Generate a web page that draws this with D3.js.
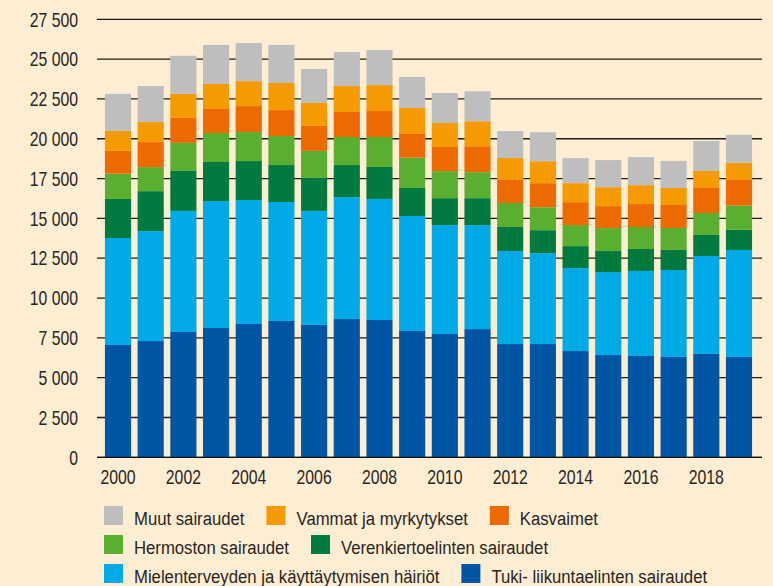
<!DOCTYPE html>
<html>
<head>
<meta charset="utf-8">
<script src="https://cdn.jsdelivr.net/npm/d3@7"></script>
<style>
  html, body { margin: 0; padding: 0; background: #fdedd3; }
  svg { display: block; }
  text { fill: #2a2522; font-family: 'Liberation Sans', Arial, sans-serif; }
</style>
</head>
<body>
<svg id="chart" width="773" height="586"></svg>
<script>
// years on the x axis
const years = d3.range(2000, 2020);

// series values, bottom of the stack first
const tuki     = [7050, 7300, 7870, 8120, 8370, 8560, 8310, 8680, 8620, 7930, 7740, 8050, 7110, 7110, 6670, 6420, 6360, 6300, 6490, 6300];
const mielen   = [6720, 6900, 7600, 7970, 7780, 7470, 7160, 7660, 7600, 7220, 6840, 6530, 5840, 5710, 5210, 5210, 5340, 5460, 6150, 6720];
const veren    = [2450, 2510, 2510, 2450, 2450, 2320, 2070, 2010, 2010, 1760, 1690, 1690, 1510, 1440, 1380, 1320, 1380, 1260, 1320, 1260];
const hermo    = [1590, 1510, 1760, 1820, 1820, 1820, 1700, 1760, 1880, 1900, 1700, 1630, 1510, 1440, 1320, 1440, 1380, 1380, 1380, 1530];
const kasvaim  = [1430, 1570, 1570, 1510, 1630, 1630, 1570, 1570, 1630, 1490, 1510, 1630, 1440, 1510, 1440, 1380, 1440, 1440, 1570, 1610];
const vammat   = [1260, 1260, 1510, 1570, 1570, 1700, 1440, 1630, 1630, 1630, 1510, 1570, 1380, 1380, 1190, 1190, 1190, 1070, 1070, 1070];
const muut     = [2320, 2260, 2390, 2450, 2390, 2390, 2130, 2130, 2200, 1950, 1880, 1880, 1690, 1820, 1570, 1700, 1760, 1700, 1880, 1760];

const seriesNames = [
  'Tuki- liikuntaelinten sairaudet',
  'Mielenterveyden ja käyttäytymisen häiriöt',
  'Verenkiertoelinten sairaudet',
  'Hermoston sairaudet',
  'Kasvaimet',
  'Vammat ja myrkytykset',
  'Muut sairaudet'
];
const seriesValues = [tuki, mielen, veren, hermo, kasvaim, vammat, muut];
const seriesColors = ['#0055a4', '#00aae7', '#007a3e', '#5aaf31', '#ec6a00', '#f59a00', '#bebebe'];

const yTicks = d3.range(0, 27501, 2500);
const xTickYears = years.filter(y => y % 2 === 0);

// legend layout: rows of series indexes
const legendRows = [[6, 5, 4], [3, 2], [1, 0]];

const rows = years.map((yr, i) => {
  const r = {year: yr};
  seriesNames.forEach((n, k) => { r[n] = seriesValues[k][i]; });
  return r;
});

const svg = d3.select('#chart');

// condensed look: squeeze the text horizontally
const tickSqueeze = 0.79;
const legendSqueeze = 0.88;

const x = d3.scaleBand()
  .domain(years)
  .range([98.4, 758.6])
  .paddingInner(0.2)
  .paddingOuter(0.2);

const y = d3.scaleLinear()
  .domain([0, 27500])
  .range([457.3, 19.3]);

const fmt = v => d3.format(',')(v).replace(/,/g, ' ');

// grid lines behind the bars
svg.append('g')
  .selectAll('line')
  .data(yTicks)
  .enter()
  .append('line')
  .attr('x1', 97)
  .attr('x2', 762)
  .attr('y1', d => y(d))
  .attr('y2', d => y(d))
  .attr('stroke', '#221d1a')
  .attr('stroke-width', 1.3);

// y tick labels
svg.append('g')
  .selectAll('text')
  .data(yTicks)
  .enter()
  .append('text')
  .attr('transform', d => `translate(78,${y(d)}) scale(${tickSqueeze},1)`)
  .attr('dy', '0.36em')
  .attr('text-anchor', 'end')
  .style('font-size', '20px')
  .text(d => fmt(d));

const stack = d3.stack().keys(seriesNames);
const layers = stack(rows);

svg.append('g')
  .selectAll('g')
  .data(layers)
  .enter()
  .append('g')
  .attr('fill', (d, i) => seriesColors[i])
  .selectAll('rect')
  .data(d => d)
  .enter()
  .append('rect')
  .attr('x', d => x(d.data.year))
  .attr('width', x.bandwidth())
  .attr('y', d => y(d[1]))
  .attr('height', d => y(d[0]) - y(d[1]));

// baseline
svg.append('line')
  .attr('x1', 97)
  .attr('x2', 762)
  .attr('y1', y(0))
  .attr('y2', y(0))
  .attr('stroke', '#111')
  .attr('stroke-width', 1.3);

// x labels
svg.append('g')
  .selectAll('text')
  .data(xTickYears)
  .enter()
  .append('text')
  .attr('transform', d => `translate(${x(d) + x.bandwidth() / 2},484) scale(${tickSqueeze},1)`)
  .attr('text-anchor', 'middle')
  .style('font-size', '20px')
  .text(d => d);

// legend, flowed left to right in each row
const legend = svg.append('g');
legendRows.forEach((row, ri) => {
  let cx = 104;
  const top = 506 + ri * 29;
  row.forEach(k => {
    legend.append('rect')
      .attr('x', cx)
      .attr('y', top)
      .attr('width', 19)
      .attr('height', 19)
      .attr('fill', seriesColors[k]);
    const t = legend.append('text')
      .attr('transform', `translate(${cx + 30},${top + 19}) scale(${legendSqueeze},1)`)
      .style('font-size', '19px')
      .text(seriesNames[k]);
    cx += 30 + t.node().getComputedTextLength() * legendSqueeze + 22;
  });
});
</script>
</body>
</html>
